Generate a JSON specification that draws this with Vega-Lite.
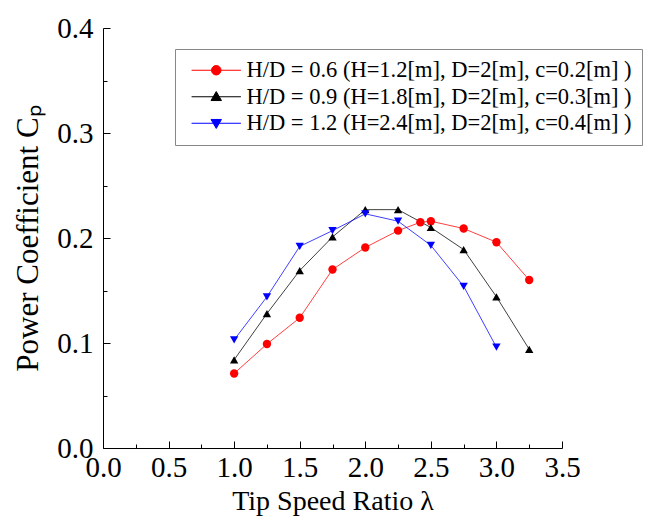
{
  "$schema": "https://vega.github.io/schema/vega-lite/v6.json",
  "width": 459,
  "height": 420,
  "autosize": {"type": "none"},
  "padding": {"left": 103, "top": 28, "right": 93, "bottom": 73},
  "background": "white",
  "config": {"view": {"stroke": null}, "font": "Liberation Serif"},
  "data": {"values": [
    {"series": "H/D = 0.6 (H=1.2[m], D=2[m], c=0.2[m] )", "lam": 1.0, "cp": 0.071},
    {"series": "H/D = 0.6 (H=1.2[m], D=2[m], c=0.2[m] )", "lam": 1.25, "cp": 0.099},
    {"series": "H/D = 0.6 (H=1.2[m], D=2[m], c=0.2[m] )", "lam": 1.5, "cp": 0.124},
    {"series": "H/D = 0.6 (H=1.2[m], D=2[m], c=0.2[m] )", "lam": 1.75, "cp": 0.170},
    {"series": "H/D = 0.6 (H=1.2[m], D=2[m], c=0.2[m] )", "lam": 2.0, "cp": 0.191},
    {"series": "H/D = 0.6 (H=1.2[m], D=2[m], c=0.2[m] )", "lam": 2.25, "cp": 0.207},
    {"series": "H/D = 0.6 (H=1.2[m], D=2[m], c=0.2[m] )", "lam": 2.42, "cp": 0.215},
    {"series": "H/D = 0.6 (H=1.2[m], D=2[m], c=0.2[m] )", "lam": 2.5, "cp": 0.216},
    {"series": "H/D = 0.6 (H=1.2[m], D=2[m], c=0.2[m] )", "lam": 2.75, "cp": 0.209},
    {"series": "H/D = 0.6 (H=1.2[m], D=2[m], c=0.2[m] )", "lam": 3.0, "cp": 0.196},
    {"series": "H/D = 0.6 (H=1.2[m], D=2[m], c=0.2[m] )", "lam": 3.25, "cp": 0.160},
    {"series": "H/D = 0.9 (H=1.8[m], D=2[m], c=0.3[m] )", "lam": 1.0, "cp": 0.084},
    {"series": "H/D = 0.9 (H=1.8[m], D=2[m], c=0.3[m] )", "lam": 1.25, "cp": 0.128},
    {"series": "H/D = 0.9 (H=1.8[m], D=2[m], c=0.3[m] )", "lam": 1.5, "cp": 0.169},
    {"series": "H/D = 0.9 (H=1.8[m], D=2[m], c=0.3[m] )", "lam": 1.75, "cp": 0.201},
    {"series": "H/D = 0.9 (H=1.8[m], D=2[m], c=0.3[m] )", "lam": 2.0, "cp": 0.227},
    {"series": "H/D = 0.9 (H=1.8[m], D=2[m], c=0.3[m] )", "lam": 2.25, "cp": 0.227},
    {"series": "H/D = 0.9 (H=1.8[m], D=2[m], c=0.3[m] )", "lam": 2.5, "cp": 0.210},
    {"series": "H/D = 0.9 (H=1.8[m], D=2[m], c=0.3[m] )", "lam": 2.75, "cp": 0.189},
    {"series": "H/D = 0.9 (H=1.8[m], D=2[m], c=0.3[m] )", "lam": 3.0, "cp": 0.144},
    {"series": "H/D = 0.9 (H=1.8[m], D=2[m], c=0.3[m] )", "lam": 3.25, "cp": 0.094},
    {"series": "H/D = 1.2 (H=2.4[m], D=2[m], c=0.4[m] )", "lam": 1.0, "cp": 0.103},
    {"series": "H/D = 1.2 (H=2.4[m], D=2[m], c=0.4[m] )", "lam": 1.25, "cp": 0.144},
    {"series": "H/D = 1.2 (H=2.4[m], D=2[m], c=0.4[m] )", "lam": 1.5, "cp": 0.192},
    {"series": "H/D = 1.2 (H=2.4[m], D=2[m], c=0.4[m] )", "lam": 1.75, "cp": 0.207},
    {"series": "H/D = 1.2 (H=2.4[m], D=2[m], c=0.4[m] )", "lam": 2.0, "cp": 0.223},
    {"series": "H/D = 1.2 (H=2.4[m], D=2[m], c=0.4[m] )", "lam": 2.25, "cp": 0.216},
    {"series": "H/D = 1.2 (H=2.4[m], D=2[m], c=0.4[m] )", "lam": 2.5, "cp": 0.193},
    {"series": "H/D = 1.2 (H=2.4[m], D=2[m], c=0.4[m] )", "lam": 2.75, "cp": 0.154},
    {"series": "H/D = 1.2 (H=2.4[m], D=2[m], c=0.4[m] )", "lam": 3.0, "cp": 0.096}
  ]},
  "encoding": {
    "x": {
      "field": "lam", "type": "quantitative",
      "scale": {"domain": [0, 3.5], "nice": false, "zero": false},
      "axis": {
        "values": [0, 0.25, 0.5, 0.75, 1, 1.25, 1.5, 1.75, 2, 2.25, 2.5, 2.75, 3, 3.25, 3.5],
        "labelExpr": "datum.value % 0.5 == 0 ? format(datum.value, '.1f') : ''",
        "tickSize": {"condition": {"test": "datum.value % 0.5 != 0", "value": -4}, "value": -7},
        "title": "Tip Speed Ratio λ",
        "titleFont": "Liberation Serif", "titleFontSize": 28, "titleFontWeight": "normal", "titleColor": "black",
        "labelFont": "Liberation Serif", "labelFontSize": 29, "labelColor": "black",
        "domainColor": "black", "tickColor": "black", "grid": false,
        "labelOverlap": false, "labelFlush": false, "labelPadding": 12, "titlePadding": 2
      }
    },
    "y": {
      "field": "cp", "type": "quantitative",
      "scale": {"domain": [0, 0.4], "nice": false, "zero": false},
      "axis": {
        "values": [0, 0.05, 0.1, 0.15, 0.2, 0.25, 0.3, 0.35, 0.4],
        "labelExpr": "round(datum.value * 100) % 10 == 0 ? format(datum.value, '.1f') : ''",
        "tickSize": {"condition": {"test": "round(datum.value * 100) % 10 != 0", "value": -4}, "value": -7},
        "title": "Power Coefficient Cₚ",
        "titleFont": "Liberation Serif", "titleFontSize": 31, "titleFontWeight": "normal", "titleColor": "black",
        "labelFont": "Liberation Serif", "labelFontSize": 29, "labelColor": "black",
        "domainColor": "black", "tickColor": "black", "grid": false,
        "labelOverlap": false, "labelFlush": false, "labelPadding": 17, "titlePadding": 12
      }
    }
  },
  "resolve": {"scale": {"shape": "independent", "fill": "independent", "stroke": "independent"}},
  "layer": [
    {
      "mark": {"type": "line", "strokeWidth": 1, "opacity": 0.75},
      "encoding": {
        "order": {"field": "lam"},
        "color": {
          "field": "series", "type": "nominal",
          "scale": {
            "domain": ["H/D = 0.6 (H=1.2[m], D=2[m], c=0.2[m] )", "H/D = 0.9 (H=1.8[m], D=2[m], c=0.3[m] )", "H/D = 1.2 (H=2.4[m], D=2[m], c=0.4[m] )"],
            "range": ["#ff0000", "#000000", "#0000ff"]
          },
          "legend": null
        }
      }
    },
    {
      "mark": {"type": "point", "filled": true, "size": 70, "opacity": 1},
      "encoding": {
        "color": {
          "field": "series", "type": "nominal",
          "scale": {
            "domain": ["H/D = 0.6 (H=1.2[m], D=2[m], c=0.2[m] )", "H/D = 0.9 (H=1.8[m], D=2[m], c=0.3[m] )", "H/D = 1.2 (H=2.4[m], D=2[m], c=0.4[m] )"],
            "range": ["#ff0000", "#000000", "#0000ff"]
          },
          "legend": null
        },
        "shape": {
          "field": "series", "type": "nominal",
          "scale": {
            "domain": ["H/D = 0.6 (H=1.2[m], D=2[m], c=0.2[m] )", "H/D = 0.9 (H=1.8[m], D=2[m], c=0.3[m] )", "H/D = 1.2 (H=2.4[m], D=2[m], c=0.4[m] )"],
            "range": ["circle", "triangle-up", "triangle-down"]
          },
          "legend": null
        }
      }
    },
    {
      "transform": [{"filter": "datum.lam > 10"}],
      "mark": {"type": "point", "size": 90, "strokeWidth": 1, "opacity": 1},
      "encoding": {
        "fill": {
          "field": "series", "type": "nominal",
          "scale": {
            "domain": ["H/D = 0.6 (H=1.2[m], D=2[m], c=0.2[m] )", "H/D = 0.9 (H=1.8[m], D=2[m], c=0.3[m] )", "H/D = 1.2 (H=2.4[m], D=2[m], c=0.4[m] )"],
            "range": ["#ff0000", "#000000", "#0000ff"]
          },
          "legend": {
            "orient": "none", "legendX": 72, "legendY": 21,
            "title": null, "direction": "vertical",
            "labelFont": "Liberation Serif", "labelFontSize": 22.5, "labelColor": "black", "labelLimit": 0,
            "symbolSize": 90, "symbolOffset": 20, "labelOffset": 19, "rowPadding": 3.5,
            "padding": 10, "strokeColor": "#888888", "fillColor": "white",
            "symbolStrokeWidth": 1, "symbolOpacity": 1
          }
        },
        "stroke": {
          "field": "series", "type": "nominal",
          "scale": {
            "domain": ["H/D = 0.6 (H=1.2[m], D=2[m], c=0.2[m] )", "H/D = 0.9 (H=1.8[m], D=2[m], c=0.3[m] )", "H/D = 1.2 (H=2.4[m], D=2[m], c=0.4[m] )"],
            "range": ["#ff0000", "#000000", "#0000ff"]
          },
          "legend": {
            "orient": "none", "legendX": 72, "legendY": 21,
            "title": null, "direction": "vertical",
            "labelFont": "Liberation Serif", "labelFontSize": 22.5, "labelColor": "black", "labelLimit": 0,
            "symbolSize": 90, "symbolOffset": 20, "labelOffset": 19, "rowPadding": 3.5,
            "padding": 10, "strokeColor": "#888888", "fillColor": "white",
            "symbolStrokeWidth": 1, "symbolOpacity": 1
          }
        },
        "shape": {
          "field": "series", "type": "nominal",
          "scale": {
            "domain": ["H/D = 0.6 (H=1.2[m], D=2[m], c=0.2[m] )", "H/D = 0.9 (H=1.8[m], D=2[m], c=0.3[m] )", "H/D = 1.2 (H=2.4[m], D=2[m], c=0.4[m] )"],
            "range": [
              "M-5.2,0H5.2M1,0A1,1 0 1,1 -1,0A1,1 0 1,1 1,0Z",
              "M-5.2,0H5.2M0,-1.1L1.1,0.8L-1.1,0.8Z",
              "M-5.2,0H5.2M0,1.1L1.1,-0.8L-1.1,-0.8Z"
            ]
          },
          "legend": {
            "orient": "none", "legendX": 72, "legendY": 21,
            "title": null, "direction": "vertical",
            "labelFont": "Liberation Serif", "labelFontSize": 22.5, "labelColor": "black", "labelLimit": 0,
            "symbolSize": 90, "symbolOffset": 20, "labelOffset": 19, "rowPadding": 3.5,
            "padding": 10, "strokeColor": "#888888", "fillColor": "white",
            "symbolStrokeWidth": 1, "symbolOpacity": 1
          }
        }
      }
    }
  ]
}
